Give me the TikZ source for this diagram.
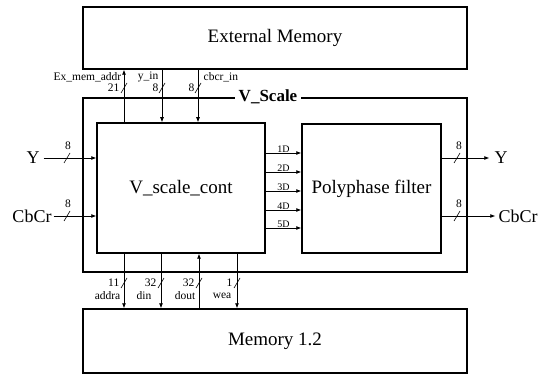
\documentclass[tikz,border=0pt]{standalone}
\usepackage{fontspec}
\setmainfont{Liberation Serif}
\usetikzlibrary{arrows.meta,positioning,calc}

\tikzset{
  blk/.style={draw, line width=1.5pt, inner sep=0pt, font=\fontsize{19}{19}\selectfont},
  frame/.style={line width=1.1pt},
  sig/.style={line width=0.7pt, -{Latex[length=5pt,width=4pt]}},
  bus/.style={line width=0.6pt},
  lbl/.style={font=\fontsize{11.5}{11.5}\selectfont, inner sep=0.5pt},
  io/.style={font=\fontsize{18}{18}\selectfont, inner sep=1pt}
}
% bus width mark '/' at a point
\newcommand{\busmark}[2]{\draw[bus] (#1,#2) +(-3,5) -- +(3,-5);}

\begin{document}
\begin{tikzpicture}[x=1pt,y=-1pt]
  \useasboundingbox (0,0) rectangle (549,374);

  % Blocks
  \node[blk, minimum width=384pt, minimum height=62pt] (extmem) at (275,38) {External Memory};
  \node[blk, minimum width=168pt, minimum height=130pt] (vcont) at (181,188) {V\_scale\_cont};
  \node[blk, minimum width=139pt, minimum height=129pt] (poly) at (371.5,188.5) {Polyphase filter};
  \node[blk, minimum width=384pt, minimum height=64pt] (mem) at (275,341) {Memory 1.2};

  % V_Scale frame with title
  \node[font=\bfseries\fontsize{17}{17}\selectfont, inner sep=4pt] (vstitle) at (268,97) {V\_Scale};
  \coordinate (vsNW) at (83,98);
  \coordinate (vsNE) at (467,98);
  \coordinate (vsSW) at (83,272);
  \coordinate (vsSE) at (467,272);
  \draw[frame] (vstitle.west |- vsNW) -- (vsNW) -- (vsSW) -- (vsSE) -- (vsNE) -- (vstitle.east |- vsNE);

  % External memory interface
  \draw[sig] (vcont.north -| 124,0) -- (extmem.south -| 124,0);
  \draw[sig] (extmem.south -| 162,0) -- (vcont.north -| 162,0);
  \draw[sig] (extmem.south -| 198,0) -- (vcont.north -| 198,0);
  \busmark{124}{88}
  \busmark{162}{88}
  \busmark{198}{88}
  \node[lbl, anchor=east] (lexaddr) at (122,77) {Ex\_mem\_addr};
  \node[lbl, anchor=east] (lyin) at (159,77) {y\_in};
  \node[lbl, anchor=west] (lcbcrin) at (203,77) {cbcr\_in};
  \node[lbl, anchor=east] (nexaddr) at (120,88) {21};
  \node[lbl, anchor=east] (nyin) at (159,88) {8};
  \node[lbl, anchor=east] (ncbcrin) at (195,88) {8};

  % Inputs
  \node[io] (yin) at (33,158) {Y};
  \node[io] (cin) at (32,216) {CbCr};
  \draw[sig] ([xshift=3pt]yin.east) -- (vcont.west |- yin.east);
  \draw[sig] ([xshift=1pt]cin.east) -- (vcont.west |- cin.east);
  \busmark{67}{158}
  \busmark{67}{216}
  \node[lbl] (nyi) at (68,146) {8};
  \node[lbl] (nci) at (68,204) {8};

  % Delay lines between the blocks
  \foreach \i/\yy in {1/153,2/172,3/191,4/210,5/228}
    \draw[sig] (vcont.east |- 0,\yy) -- node[lbl, above, font=\fontsize{10}{10}\selectfont] {\i D} (poly.west |- 0,\yy);

  % Outputs
  \node[io] (yout) at (501,158) {Y};
  \node[io] (cout) at (518,216) {CbCr};
  \draw[sig] (poly.east |- yout.west) -- ([xshift=-4pt]yout.west);
  \draw[sig] (poly.east |- cout.west) -- ([xshift=-2pt]cout.west);
  \busmark{457}{158}
  \busmark{457}{216}
  \node[lbl] (nyo) at (459,146) {8};
  \node[lbl] (nco) at (459,204) {8};

  % Memory interface
  \draw[sig] (vcont.south -| 124,0) -- (mem.north -| 124,0);
  \draw[sig] (vcont.south -| 161,0) -- (mem.north -| 161,0);
  \draw[sig] (mem.north -| 199,0) -- (vcont.south -| 199,0);
  \draw[sig] (vcont.south -| 237,0) -- (mem.north -| 237,0);
  \busmark{124}{283}
  \busmark{161}{283}
  \busmark{199}{283}
  \busmark{237}{283}
  \node[lbl, anchor=east] (naddra) at (120,283) {11};
  \node[lbl, anchor=east] (ndin) at (157,283) {32};
  \node[lbl, anchor=east] (ndout) at (195,283) {32};
  \node[lbl, anchor=east] (nwea) at (233,283) {1};
  \node[lbl, anchor=east] (laddra) at (121,296) {addra};
  \node[lbl, anchor=east] (ldin) at (152,296) {din};
  \node[lbl, anchor=east] (ldout) at (196,296) {dout};
  \node[lbl, anchor=east] (lwea) at (232,296) {wea};
\end{tikzpicture}
\end{document}
